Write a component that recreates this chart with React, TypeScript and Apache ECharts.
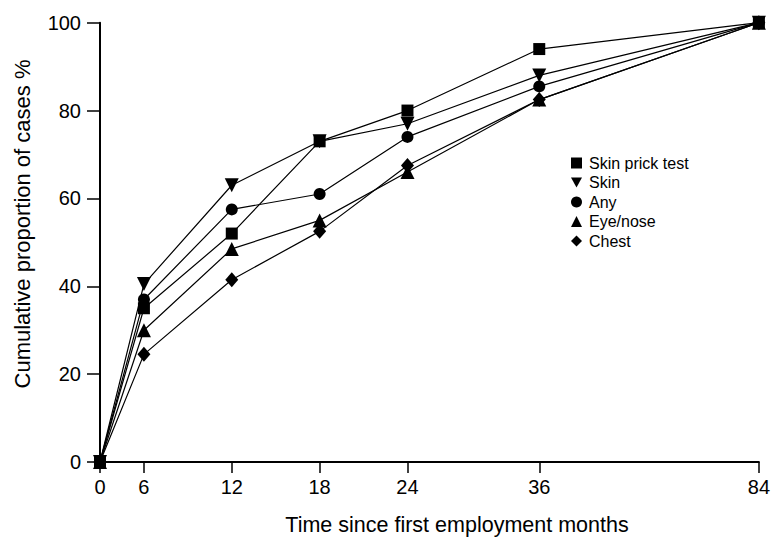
import React, { useEffect, useRef } from "react";
import * as echarts from "echarts";

// Months since first employment (x categories)
const months = [0, 6, 12, 18, 24, 36, 84];
// Broken x scale of the original figure: axis units for each month tick
const monthScale = [0, 0.5, 1.5, 2.5, 3.5, 5, 7.5];

const yTicks = [0, 20, 40, 60, 80, 100];

const seriesNames = ["Skin prick test", "Skin", "Any", "Eye/nose", "Chest"];
const skinPrick = [0, 35, 52, 73, 80, 94, 100];
const skin = [0, 40.5, 63, 73, 77, 88, 100];
const anyCase = [0, 37, 57.5, 61, 74, 85.5, 100];
const eyeNose = [0, 30, 48.5, 55, 66, 82.5, 100];
const chest = [0, 24.5, 41.5, 52.5, 67.5, 82.5, 100];

const FONT = "'Liberation Sans', Arial, Helvetica, sans-serif";
const DOWN_TRI = "path://M0,0L10,0L5,9Z";

export default function App() {
  const ref = useRef<HTMLDivElement>(null);
  useEffect(() => {
    if (!ref.current) return;
    const chart = echarts.init(ref.current, undefined, { renderer: "svg" });
    const toData = (vals: number[]) => months.map((m, i) => [monthScale[i], vals[i]]);
    const mk = (name: string, vals: number[], symbol: string, size: number | number[], rotate: number, z: number) => ({
      type: "line",
      name,
      data: toData(vals),
      symbol,
      symbolSize: size,
      symbolRotate: rotate,
      showAllSymbol: true,
      z,
      lineStyle: { color: "#000", width: 1.2 },
      itemStyle: { color: "#000" },
      emphasis: { disabled: true },
    });
    chart.setOption({
      animation: false,
      backgroundColor: "#fff",
      textStyle: { fontFamily: FONT },
      grid: { left: 100, right: 14, top: 22.7, bottom: 75, containLabel: false },
      xAxis: {
        type: "value",
        min: 0,
        max: 7.5,
        splitLine: { show: false },
        axisLine: { lineStyle: { color: "#000", width: 2 } },
        axisTick: { show: true, length: 11, lineStyle: { color: "#000", width: 1.5 }, customValues: monthScale },
        axisLabel: {
          customValues: monthScale,
          color: "#000",
          fontSize: 20,
          fontFamily: FONT,
          margin: 15,
          formatter: (v: number) => {
            const idx = monthScale.findIndex((p) => Math.abs(p - v) < 1e-6);
            return idx >= 0 ? String(months[idx]) : "";
          },
        },
      },
      yAxis: {
        type: "value",
        min: 0,
        max: 100,
        interval: 20,
        splitLine: { show: false },
        axisLine: { show: true, lineStyle: { color: "#000", width: 2 } },
        axisTick: { show: true, length: 13, lineStyle: { color: "#000", width: 1.5 }, customValues: yTicks },
        axisLabel: { color: "#000", fontSize: 20, fontFamily: FONT, margin: 19 },
      },
      legend: {
        orient: "vertical",
        left: 566,
        top: 150,
        itemWidth: 11,
        itemHeight: 11,
        itemGap: 3.5,
        selectedMode: false,
        textStyle: { color: "#000", fontSize: 16, fontFamily: FONT, lineHeight: 16, padding: [0, 0, 0, 2] },
        data: [
          { name: seriesNames[0], icon: "rect" },
          { name: seriesNames[1], icon: DOWN_TRI },
          { name: seriesNames[2], icon: "circle" },
          { name: seriesNames[3], icon: "triangle" },
          { name: seriesNames[4], icon: "diamond" },
        ],
      },
      graphic: [
        {
          type: "text",
          x: 457,
          y: 525,
          style: {
            text: "Time since first employment months",
            fill: "#000",
            fontSize: 21.5,
            fontFamily: FONT,
            align: "center",
            verticalAlign: "middle",
          },
        },
        {
          type: "text",
          x: 22,
          y: 224,
          rotation: Math.PI / 2,
          style: {
            text: "Cumulative proportion of cases %",
            fill: "#000",
            fontSize: 22,
            fontFamily: FONT,
            align: "center",
            verticalAlign: "middle",
          },
        },
      ],
      series: [
        mk(seriesNames[4], chest, "diamond", [13, 15], 0, 2),
        mk(seriesNames[3], eyeNose, "triangle", 14, 0, 3),
        mk(seriesNames[2], anyCase, "circle", 12, 0, 4),
        mk(seriesNames[1], skin, "triangle", 14, 180, 5),
        mk(seriesNames[0], skinPrick, "rect", 12, 0, 6),
      ],
    });
    return () => chart.dispose();
  }, []);
  return <div ref={ref} style={{ position: "absolute", left: 0, top: 0, width: 773, height: 537 }} />;
}
